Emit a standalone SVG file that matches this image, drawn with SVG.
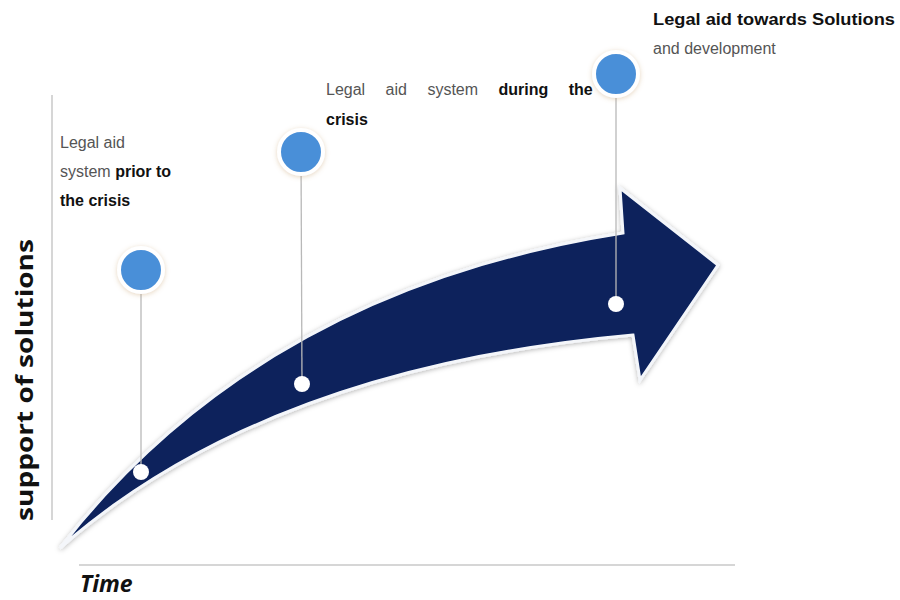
<svg xmlns="http://www.w3.org/2000/svg" width="900" height="600" viewBox="0 0 900 600">
<style>
.axis{stroke:#c8c8c8;stroke-width:1.5;fill:none}
.stem{stroke:#b8b8b8;stroke-width:1.3}
.big{fill:#4a8fd8;stroke:#ffffff;stroke-width:4;filter:url(#sh)}
.dot{fill:#ffffff}
.t{font-family:"Liberation Sans",Arial,sans-serif;font-size:16px;fill:#555555}
.b{font-weight:bold;fill:#111111}
</style>
<defs>
<filter id="sh" x="-50%" y="-50%" width="200%" height="200%">
<feDropShadow dx="0" dy="1" stdDeviation="2.5" flood-color="#c9a070" flood-opacity="0.45"/>
</filter>
<filter id="ash" x="-10%" y="-10%" width="120%" height="120%">
<feDropShadow dx="0" dy="1" stdDeviation="2.5" flood-color="#000000" flood-opacity="0.3"/>
</filter>
</defs>
<rect width="900" height="600" fill="#ffffff"/>
<g id="axes">
<line class="axis" x1="52" y1="95" x2="52" y2="520"/>
<line class="axis" x1="79" y1="565" x2="735" y2="565"/>
<text x="0" y="0" transform="translate(33,380) rotate(-90)" text-anchor="middle" font-family="'Open Sans','Liberation Sans',sans-serif" font-weight="bold" font-size="24" fill="#111111" textLength="282" lengthAdjust="spacingAndGlyphs">support of solutions</text>
<text x="80" y="592" font-family="'Open Sans','Liberation Sans',sans-serif" font-weight="bold" font-style="italic" font-size="23" fill="#111111">Time</text>
</g>
<g id="arrow">
<path d="M60,548 Q260,290 623,233 L620,188 L718,265 L640,380 L633,335 Q265,368 60,548 Z" fill="#08205c" stroke="#f4f6fa" stroke-width="3" stroke-linejoin="miter" filter="url(#ash)"/>
</g>
<g id="connectors">
<line class="stem" x1="141" y1="270" x2="141" y2="472"/>
<line class="stem" x1="301" y1="152" x2="302" y2="384"/>
<line class="stem" x1="616" y1="74" x2="616" y2="304"/>
</g>
<g id="node1">
<circle class="big" cx="141" cy="270" r="22"/>
<circle class="dot" cx="141" cy="472" r="8"/>
<text class="t" x="60" y="148">Legal aid</text>
<text class="t" x="60" y="177">system <tspan class="b">prior to</tspan></text>
<text class="t" x="60" y="206"><tspan class="b">the crisis</tspan></text>
</g>
<g id="node2">
<circle class="big" cx="301" cy="152" r="22"/>
<circle class="dot" cx="302" cy="384" r="8"/>
<text class="t" x="326" y="95" word-spacing="16">Legal aid system <tspan class="b">during the</tspan></text>
<text class="t b" x="326" y="125">crisis</text>
</g>
<g id="node3">
<circle class="big" cx="616" cy="74" r="22"/>
<circle class="dot" cx="616" cy="304" r="8"/>
<text class="t b" x="653" y="25" textLength="242" lengthAdjust="spacingAndGlyphs">Legal aid towards Solutions</text>
<text class="t" x="653" y="54">and development</text>
</g>
</svg>
